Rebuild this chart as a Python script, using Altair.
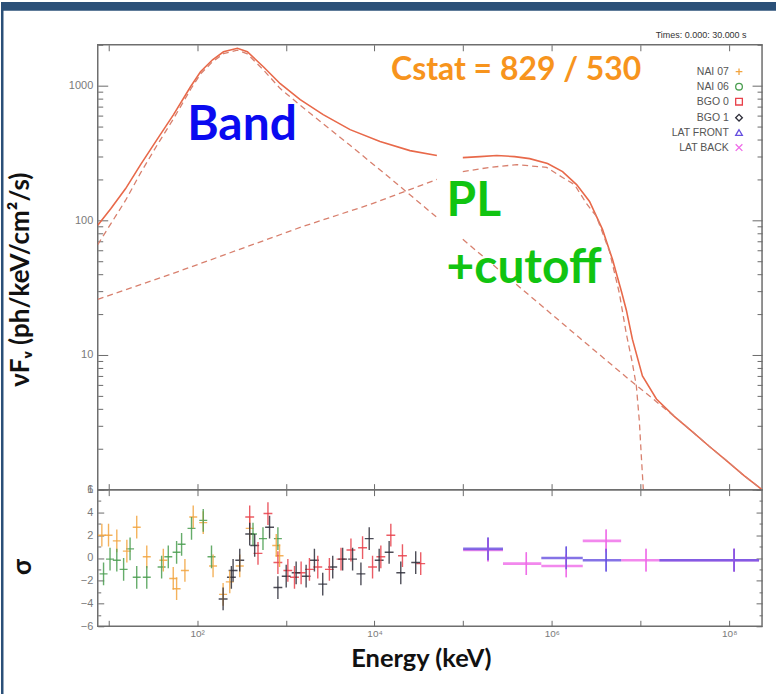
import altair as alt
import pandas as pd

# ---------------- model curves: energy (keV) and nuFnu ----------------
# total model (solid); the figure shows a small blank gap near 5e4-1e5 keV
TOTAL_1_E = [7.56, 10.6, 15.6, 23.0, 35.8, 54.1, 84.1, 109, 149, 198, 284, 368, 557, 865, 1452, 2635, 5302, 11530, 25080, 50480]
TOTAL_1_F = [91.7, 122, 172, 259, 404, 609, 981, 1268, 1556, 1783, 1893, 1783, 1380, 1033, 787, 609, 471, 384, 329, 303]
TOTAL_2_E = [9.9e4, 1.54e5, 2.39e5, 3.80e5, 5.61e5, 8.94e5, 1.32e6, 1.90e6, 2.66e6, 3.72e6, 4.82e6, 6.08e6, 6.92e6, 8.09e6, 1.05e7, 1.51e7, 2.40e7, 3.83e7, 5.94e7, 9.23e7, 1.47e8, 2.345e8]
TOTAL_2_F = [292, 297, 303, 297, 287, 264, 230, 184, 138, 85.6, 51.3, 29.7, 21.5, 13.1, 6.98, 4.71, 3.5, 2.7, 2.1, 1.65, 1.27, 1.0]
# Band component (dashed)
BAND_1_E = [7.56, 10.6, 15.6, 23.0, 35.8, 54.1, 84.1, 109, 149, 198, 284, 368, 557, 865, 1452, 2635, 5302, 14940, 50480]
BAND_1_F = [66, 94, 141, 225, 367, 568, 936, 1220, 1504, 1728, 1833, 1719, 1310, 950, 715, 520, 360, 206, 105]
BAND_2_E = [9.9e4, 2.58e5, 7.27e5, 2.05e6, 6.92e6, 1.51e7, 2.40e7, 3.83e7, 5.94e7, 9.23e7, 1.47e8, 2.345e8]
BAND_2_F = [72.2, 42.4, 23.9, 13.4, 6.84, 4.5, 3.5, 2.7, 2.1, 1.65, 1.27, 1.0]
# power law with cutoff component (dashed)
CPL_1_E = [7.56, 50.1, 1570, 8900, 50480]
CPL_1_F = [25.9, 39.7, 90.2, 131, 201]
CPL_2_E = [9.9e4, 1.99e5, 4.01e5, 8.72e5, 1.32e6, 1.80e6, 2.46e6, 3.18e6, 4.46e6, 5.77e6, 6.92e6, 8.09e6, 8.97e6, 9.69e6, 1.02e7, 1.075e7]
CPL_2_F = [230, 247, 259, 247, 208, 184, 133, 107, 58.8, 28.7, 14.3, 8.71, 5.88, 3.24, 1.78, 1.0]

# ---------------- residuals (sigma) ----------------
DETECTORS = ["NAI 07", "NAI 06", "BGO 0", "BGO 1", "LAT FRONT", "LAT BACK"]
NAI07_E = [8.41, 10.0, 12.4, 16.1, 20.8, 27.0, 41.5, 53.7, 58.6, 72.7, 90.2, 117, 151, 196, 233, 302, 391, 779, 849]
NAI07_S = [2.0, 2.0, 1.5, 0.6, 2.7, 0.1, -0.2, -1.8, -2.7, -1.1, 3.6, 3.1, -0.7, -3.2, -2.1, -0.7, 2.6, 1.1, 0.2]
NAI06_E = [8.79, 10.4, 12.4, 14.8, 17.5, 20.8, 27.0, 39.7, 47.2, 58.6, 66.7, 86.3, 117, 145, 426, 552, 813]
NAI06_S = [-1.4, -0.1, -0.2, -1.0, 0.8, -1.7, -1.7, -0.8, 0.1, 0.5, 1.2, 2.6, 3.3, 0.1, 2.1, 1.7, 1.7]
BGO0_E = [391, 485, 628, 813, 1053, 1251, 1486, 1845, 2290, 3097, 4188, 5420, 7330, 9500, 11780, 15270, 20650, 33180]
BGO0_S = [3.6, 0.4, 3.9, -0.4, -1.1, -1.7, -1.3, -1.0, -0.8, -1.0, -0.1, 0.7, 0.9, -0.8, 0.1, 2.0, 0.2, -0.5]
BGO1_E = [196, 243, 254, 302, 391, 445, 655, 813, 1009, 1306, 1692, 2099, 2605, 3377, 4370, 5657, 7022, 8710, 11280, 14610, 19770, 29130]
BGO1_S = [-3.6, -1.7, -1.1, -0.2, 2.1, 1.1, 2.7, -2.6, -1.6, -1.3, -1.6, -0.2, -2.3, -0.8, -0.1, -0.1, -1.4, 1.7, -0.2, 0.5, -1.3, -0.4]
GBM_HALF_DEX = {"NAI 07": 0.045, "NAI 06": 0.045, "BGO 0": 0.05, "BGO 1": 0.05}

LATF_LO = [9.98e4, 7.60e5, 2.23e6, 1.63e7]
LATF_HI = [2.81e5, 2.23e6, 6.04e6, 2.17e8]
LATF_C = [1.905e5, 1.452e6, 4.09e6, 1.135e8]
LATF_S = [0.8, 0.0, -0.2, -0.2]
LATB_LO = [9.98e4, 2.81e5, 7.60e5, 2.23e6, 6.04e6, 1.63e7]
LATB_HI = [2.81e5, 7.60e5, 2.23e6, 6.04e6, 1.63e7, 2.17e8]
LATB_C = [1.905e5, 5.15e5, 1.452e6, 4.09e6, 1.153e7, 1.135e8]
LATB_S = [0.7, -0.5, -0.7, 1.5, -0.2, -0.2]

# ---------------- annotations ----------------
BAND_TXT = ["Band"]; BAND_TXT_E = [77.2]; BAND_TXT_F = [397]
PL_TXT = ["PL", "+cutoff"]; PL_TXT_E = [64900, 64900]; PL_TXT_F = [107, 34.3]
CSTAT_TXT = ["Cstat = 829 / 530"]; CSTAT_E = [15350]; CSTAT_F = [1107]
Y_TITLE = "νFᵥ (ph/keV/cm²/s)"
RES_TITLE = "σ"
X_TITLE = "Energy (keV)"
TIME_TXT = "Times: 0.000: 30.000 s"
# legend (drawn inside the spectrum panel, top right): anchor in data units
LEGEND_ROW_F = [1268, 982, 760, 578, 448, 347]
LEGEND_TEXT_E = 9.9e7
LEGEND_SYMBOL_E = 1.29e8

# ---------------- layout / style ----------------
W, H_TOP, H_RES = 666, 446, 137
X_DOMAIN = [7.56, 2.345e8]
Y_DOMAIN = [1, 2010]
DEC = [10, 100, 1000, 10000, 100000, 1000000, 10000000, 100000000]
Y_MAJ = [1, 10, 100, 1000]
Y_MIN = [m * d for d in [1, 10, 100] for m in range(2, 10)] + [2000]
R_EVEN = [-6, -4, -2, 0, 2, 4, 6]
R_ODD = [-5, -3, -1, 1, 3, 5]
COLORS = ["#f2a540", "#4a9e50", "#e8404a", "#2e2e3a", "#6650e0", "#ef6ae8"]
SHAPES = ["M-1,0H1M0,-1V1", "circle", "square", "diamond", "triangle-up", "M-1,-1L1,1M-1,1L1,-1"]
TICK = "#6a6a6a"
LAB = "#7a7a7a"
SOLID = "#e8694a"
DASH = "#d8806e"
TFONT = "Lato"
LFONT = "Liberation Sans"

xs = alt.Scale(type="log", domain=X_DOMAIN)
yt = alt.Scale(type="log", domain=Y_DOMAIN)
yr = alt.Scale(domain=[-6, 6])
cs = alt.Scale(domain=DETECTORS, range=COLORS)
ss = alt.Scale(domain=DETECTORS, range=SHAPES)


def ax(orient, values, size, offset=0, **extra):
    base = dict(orient=orient, values=values, tickSize=size, offset=offset, labels=False,
                domain=False, grid=False, ticks=True, tickColor=TICK, tickWidth=1, title=None)
    base.update(extra)
    return alt.Axis(**base)


def curve(E, F, color, width, xaxis, yaxis, dash=None):
    df = pd.DataFrame({"E": E, "F": F})
    kw = dict(color=color, strokeWidth=width, clip=True)
    if dash:
        kw["strokeDash"] = dash
    return alt.Chart(df).mark_line(**kw).encode(
        x=alt.X("E:Q", scale=xs, axis=xaxis),
        y=alt.Y("F:Q", scale=yt, axis=yaxis),
    )


y_labeled = alt.Axis(orient="left", values=Y_MAJ, ticks=False, tickSize=0, labels=True, format="d",
                     labelFont=LFONT, labelFontSize=11, labelColor=LAB, labelPadding=5,
                     domain=False, grid=False, title=Y_TITLE, titleX=-77, titleY=235,
                     titleFont=TFONT, titleFontSize=26, titleFontWeight="bold", titleColor="#111111",
                     titleAlign="center", titleBaseline="middle", titleAngle=-90)
x_top_edge = ax("bottom", DEC, 6, offset=-H_TOP, title=TIME_TXT, titleX=W - 16, titleY=-10,
                titleAlign="right", titleBaseline="middle", titleFont=LFONT, titleFontSize=9,
                titleFontWeight="normal", titleColor="#333333", titleAngle=0)

dash = [6, 4]
l1 = curve(TOTAL_1_E, TOTAL_1_F, SOLID, 1.6, x_top_edge, y_labeled)
l2 = curve(TOTAL_2_E, TOTAL_2_F, SOLID, 1.6, ax("top", DEC, 6, offset=-H_TOP), ax("right", Y_MAJ, 10, offset=-W))
l3 = curve(BAND_1_E, BAND_1_F, DASH, 1.3, None, ax("right", Y_MIN, 5, offset=-W), dash)
l4 = curve(BAND_2_E, BAND_2_F, DASH, 1.3, None, ax("left", Y_MAJ, 10, offset=-W), dash)
l5 = curve(CPL_1_E, CPL_1_F, DASH, 1.3, None, ax("left", Y_MIN, 5, offset=-W), dash)
l6 = curve(CPL_2_E, CPL_2_F, DASH, 1.3, None, None, dash)


def label_layer(texts, E, F, color, size):
    df = pd.DataFrame({"t": texts, "E": E, "F": F})
    return alt.Chart(df).mark_text(align="left", baseline="alphabetic", font=TFONT, fontWeight="bold",
                                   fontSize=size, color=color).encode(
        x=alt.X("E:Q", scale=xs, axis=None), y=alt.Y("F:Q", scale=yt, axis=None), text="t:N")


t_band = label_layer(BAND_TXT, BAND_TXT_E, BAND_TXT_F, "#0a0af0", 48)
t_pl = label_layer(PL_TXT, PL_TXT_E, PL_TXT_F, "#11c411", 48)
t_cstat = label_layer(CSTAT_TXT, CSTAT_E, CSTAT_F, "#f7941d", 32)

# legend built from the detector list
leg_df = pd.DataFrame({"det": DETECTORS, "F": LEGEND_ROW_F,
                       "Et": [LEGEND_TEXT_E] * len(DETECTORS), "Es": [LEGEND_SYMBOL_E] * len(DETECTORS)})
leg_text = alt.Chart(leg_df).mark_text(align="right", baseline="middle", font=LFONT, fontSize=10.5,
                                       color="#555555").encode(
    x=alt.X("Et:Q", scale=xs, axis=None), y=alt.Y("F:Q", scale=yt, axis=None), text="det:N")
leg_sym = alt.Chart(leg_df).mark_point(filled=False, size=45, strokeWidth=1.3, opacity=1).encode(
    x=alt.X("Es:Q", scale=xs, axis=None), y=alt.Y("F:Q", scale=yt, axis=None),
    color=alt.Color("det:N", scale=cs, legend=None), shape=alt.Shape("det:N", scale=ss, legend=None))

one = alt.Data(values=[{"k": 0}])
strip = alt.Chart(one).mark_rect(color="#2b5078").encode(
    x=alt.value(-97), x2=alt.value(680), y=alt.value(-43), y2=alt.value(-34))
border = alt.Chart(one).mark_rect(color="#2b5078").encode(
    x=alt.value(-97), x2=alt.value(-94.5), y=alt.value(-43), y2=alt.value(651))

top = alt.layer(l1, l2, l3, l4, l5, l6, t_band, t_pl, t_cstat, leg_text, leg_sym, strip, border).properties(
    width=W, height=H_TOP)

# ---------------- residual panel ----------------
rows = []
for det, E, S in [("NAI 07", NAI07_E, NAI07_S), ("NAI 06", NAI06_E, NAI06_S),
                  ("BGO 0", BGO0_E, BGO0_S), ("BGO 1", BGO1_E, BGO1_S)]:
    h = 10 ** GBM_HALF_DEX[det]
    for e, s in zip(E, S):
        rows.append({"det": det, "E": e, "e_lo": e / h, "e_hi": e * h, "sig": s, "s_lo": s - 1, "s_hi": s + 1})
gbm = pd.DataFrame(rows)
rows = []
for det, LO, HI, C, S in [("LAT BACK", LATB_LO, LATB_HI, LATB_C, LATB_S),
                          ("LAT FRONT", LATF_LO, LATF_HI, LATF_C, LATF_S)]:
    for lo, hi, c, s in zip(LO, HI, C, S):
        rows.append({"det": det, "E": c, "e_lo": lo, "e_hi": hi, "sig": s, "s_lo": s - 1, "s_hi": s + 1})
lat = pd.DataFrame(rows)

x_labeled = alt.Axis(orient="bottom", values=DEC, ticks=False, tickSize=0, labels=True,
                     labelExpr="datum.value == 100 ? '10²' : datum.value == 10000 ? '10⁴' : datum.value == 1000000 ? '10⁶' : datum.value == 100000000 ? '10⁸' : ''",
                     labelFont=LFONT, labelFontSize=10, labelColor=LAB, labelPadding=2, labelOverlap=False,
                     labelFlush=False, domain=False, grid=False, title=X_TITLE, titleX=324, titleY=40,
                     titleFont=TFONT, titleFontSize=25.5, titleFontWeight="bold", titleColor="#111111",
                     titleAlign="center", titleBaseline="alphabetic", titleAngle=0)
yr_labeled = alt.Axis(orient="left", values=R_EVEN, ticks=False, tickSize=0, labels=True, format="d",
                      labelFont=LFONT, labelFontSize=11, labelColor=LAB, labelPadding=5,
                      domain=False, grid=False, title=RES_TITLE, titleX=-75, titleY=77,
                      titleFont=TFONT, titleFontSize=26, titleFontWeight="bold", titleColor="#111111",
                      titleAlign="center", titleBaseline="middle", titleAngle=-90)

col = alt.Color("det:N", scale=cs, legend=None)
r1 = alt.Chart(gbm).mark_rule(strokeWidth=1.4, opacity=0.85, clip=True).encode(
    x=alt.X("e_lo:Q", scale=xs, axis=x_labeled), x2="e_hi:Q",
    y=alt.Y("sig:Q", scale=yr, axis=yr_labeled), color=col)
r2 = alt.Chart(lat).mark_rule(strokeWidth=2.6, opacity=0.8, clip=True).encode(
    x=alt.X("e_lo:Q", scale=xs, axis=ax("top", DEC, 6, offset=-H_RES)), x2="e_hi:Q",
    y=alt.Y("sig:Q", scale=yr, axis=ax("right", R_EVEN, 6, offset=-W)), color=col)
r3 = alt.Chart(gbm).mark_rule(strokeWidth=1.4, opacity=0.85, clip=True).encode(
    x=alt.X("E:Q", scale=xs, axis=ax("bottom", DEC, 6, offset=-H_RES)),
    y=alt.Y("s_lo:Q", scale=yr, axis=ax("right", R_ODD, 3, offset=-W)), y2="s_hi:Q", color=col)
r4 = alt.Chart(lat).mark_rule(strokeWidth=1.4, opacity=0.85, clip=True).encode(
    x=alt.X("E:Q", scale=xs, axis=None),
    y=alt.Y("s_lo:Q", scale=yr, axis=ax("left", R_EVEN, 6, offset=-W)), y2="s_hi:Q", color=col)
r5 = alt.Chart(lat).mark_rule(strokeWidth=1.4, opacity=0.85, clip=True).encode(
    x=alt.X("E:Q", scale=xs, axis=None),
    y=alt.Y("s_lo:Q", scale=yr, axis=ax("left", R_ODD, 3, offset=-W)), y2="s_hi:Q", color=col)

bottom = alt.layer(r1, r2, r3, r4, r5).properties(width=W, height=H_RES)

chart = alt.vconcat(top, bottom, spacing=0, bounds="flush").properties(
    padding=0, background="white"
).configure_view(stroke="#6e6e6e", strokeWidth=1.5)

chart.save("out.html", embed_options={"renderer": "svg", "actions": False})
